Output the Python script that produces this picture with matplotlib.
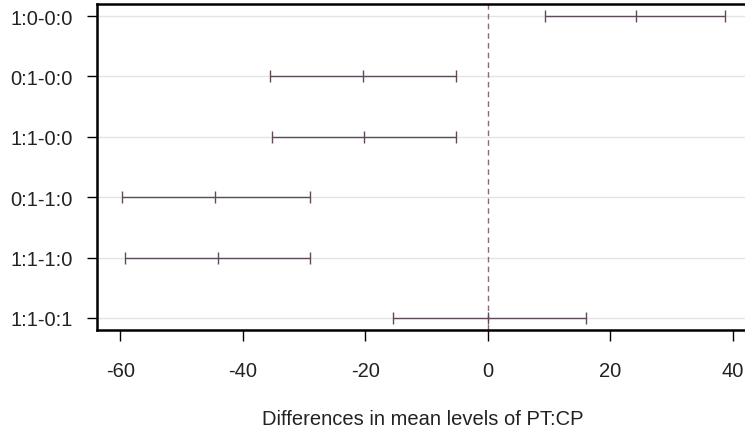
import matplotlib
matplotlib.use("Agg")
import matplotlib.pyplot as plt
import numpy as np

plt.rcParams["font.family"] = ["Liberation Sans", "DejaVu Sans"]
plt.rcParams["axes.unicode_minus"] = False

comparisons = ["1:0-0:0", "0:1-0:0", "1:1-0:0", "0:1-1:0", "1:1-1:0", "1:1-0:1"]
diff = [24.2, -20.4, -20.2, -44.5, -44.1, 0.05]
lwr = [9.4, -35.5, -35.2, -59.7, -59.3, -15.5]
upr = [38.7, -5.1, -5.1, -29.0, -29.0, 16.0]
xticks = [-60, -40, -20, 0, 20, 40]

bar_color = "#5e4a58"

fig = plt.figure(figsize=(7.45, 4.35), dpi=100)
ax = fig.add_axes([97 / 745, 104 / 435, 651 / 745, 326 / 435])

n = len(comparisons)
ypos = np.arange(n, 0, -1)
diff = np.array(diff)
lwr = np.array(lwr)
upr = np.array(upr)

# faint row guides
for y in ypos:
    ax.axhline(y, color="#e4e4e4", lw=1, zorder=0)

ax.axvline(0, color="#8a6a78", lw=1, ls=(0, (4, 3)), zorder=1)

ax.errorbar(diff, ypos, xerr=[diff - lwr, upr - diff], fmt="none",
            ecolor=bar_color, elinewidth=1, capsize=4.5, capthick=1, zorder=2)
ax.plot(diff, ypos, ls="none", marker="|", ms=9, mew=1, color=bar_color, zorder=3)

ax.set_xlim(-63.8, 42.5)
ax.set_ylim(0.8, 6.2)
ax.set_yticks(ypos)
ax.set_yticklabels(comparisons)
ax.set_xticks(xticks)

for s in ax.spines.values():
    s.set_linewidth(1.8)
ax.tick_params(axis="y", length=7.5, width=1, pad=10, labelsize=14.5)
ax.tick_params(axis="x", length=8, width=1, pad=14, labelsize=14.5)
for lbl in ax.get_xticklabels() + ax.get_yticklabels():
    lbl.set_color("#222222")

fig.text(423 / 745, 1 - 420 / 435, "Differences in mean levels of PT:CP",
         ha="center", va="center", fontsize=14.5, color="#222222")

fig.savefig("out.png", dpi=100)
